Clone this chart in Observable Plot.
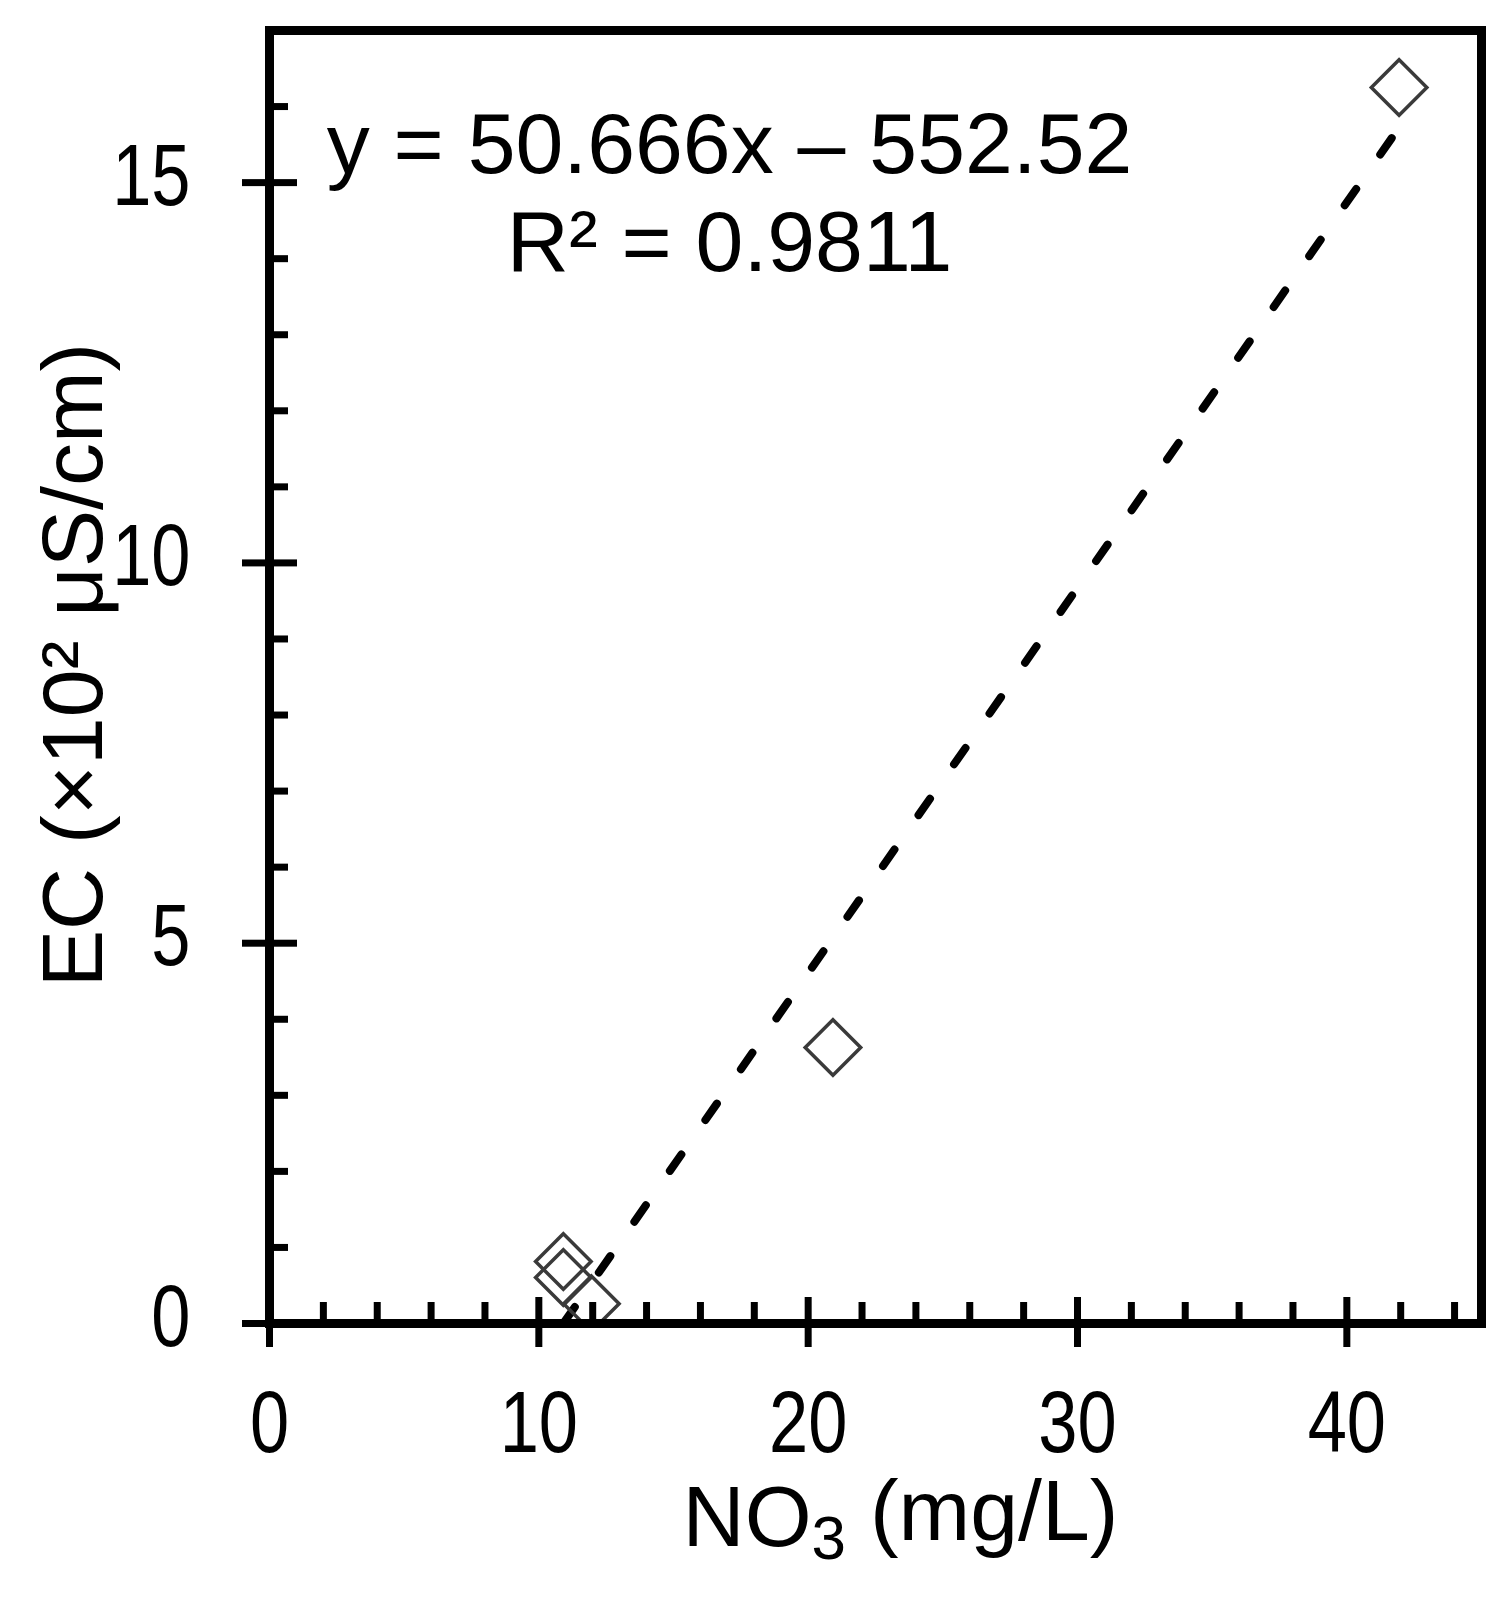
<!DOCTYPE html>
<html><head><meta charset="utf-8">
<script src="https://cdn.jsdelivr.net/npm/d3@7"></script>
<script src="https://cdn.jsdelivr.net/npm/@observablehq/plot@0.6"></script>
<style>body{margin:0;background:#fff}</style>
</head><body><div id="chart"></div>
<script>
// Data
const no3 = [10.91, 10.91, 11.95, 20.92, 41.94];      // NO3 (mg/L)
const ec  = [0.815, 0.605, 0.26, 3.63, 16.25];        // EC (x10^2 uS/cm)
const xTicks = [0, 10, 20, 30, 40];
const yTicks = [0, 5, 10, 15];
const xMinor = [2, 4, 6, 8, 12, 14, 16, 18, 22, 24, 26, 28, 32, 34, 36, 38, 42, 44];
const yMinor = [1, 2, 3, 4, 6, 7, 8, 9, 11, 12, 13, 14, 16];
const slope = 50.666, intercept = -552.52, ecUnit = 100;
const eqText = "y = 50.666x \u2013 552.52\nR\u00b2 = 0.9811";
const xLabel = "NO3 (mg/L)";
const yLabel = "EC (\u00d710\u00b2 \u03bcS/cm)";

const W = 1510, H = 1608, mL = 269, mR = 29, mT = 30, mB = 285;
const fw = W - mL - mR, fh = H - mT - mB;
const points = no3.map((x, i) => ({x, y: ec[i]}));
const fit = [d3.min(no3), d3.max(no3)].map(x => ({x, y: (slope * x + intercept) / ecUnit}));

const chart = Plot.plot({
  width: W, height: H,
  marginLeft: mL, marginRight: mR, marginTop: mT, marginBottom: mB,
  style: {fontFamily: "'Liberation Sans', Arial, sans-serif", fontSize: "86px", color: "black", background: "white"},
  x: {domain: [0, 45], ticks: xTicks, tickFormat: "d", label: null},
  y: {domain: [0, 17], ticks: yTicks, tickFormat: "d", label: null},
  marks: [
    Plot.line(fit, {x: "x", y: "y", stroke: "black", strokeWidth: 8, strokeDasharray: "20,42", strokeLinecap: "round"}),
    Plot.dot(points, {x: "x", y: "y", symbol: "diamond2", r: 25, stroke: "#3a3a3a", strokeWidth: 3.5, fill: "none", clip: true}),
    Plot.tickX(xTicks, {x: d => d, stroke: "black", strokeWidth: 7, insetTop: fh - 26}),
    Plot.tickX(xMinor, {x: d => d, stroke: "black", strokeWidth: 7, insetTop: fh - 21}),
    Plot.tickY(yTicks, {y: d => d, stroke: "black", strokeWidth: 7, insetRight: fw - 28}),
    Plot.tickY(yMinor, {y: d => d, stroke: "black", strokeWidth: 7, insetRight: fw - 19}),
    Plot.axisX(xTicks, {tickSize: 24, tickPadding: 42, strokeWidth: 7, tickFormat: "d", label: null, fontSize: 88}),
    Plot.axisY(yTicks, {tickSize: 27, tickPadding: 52, strokeWidth: 7, tickFormat: "d", label: null, fontSize: 88}),
    Plot.frame({stroke: "black", strokeWidth: 9}),
    Plot.text([eqText], {text: d => d, frameAnchor: "top", dx: -146, dy: 73, lineAnchor: "top", lineHeight: 1.14, textAnchor: "middle", fill: "black"}),
    Plot.text([xLabel], {text: d => d, frameAnchor: "bottom", dx: 25, dy: 222, textAnchor: "middle", fill: "black"}),
    Plot.text([yLabel], {text: d => d, frameAnchor: "left", dx: -195, dy: -12, rotate: -90, textAnchor: "middle", fill: "black"})
  ]
});
// subscript "3" in NO3
d3.select(chart).selectAll("text").filter(function () { return this.textContent === xLabel; }).each(function () {
  const t = d3.select(this);
  t.text(null);
  t.append("tspan").text("NO");
  t.append("tspan").attr("dy", "0.22em").attr("font-size", "0.72em").text("3");
  t.append("tspan").attr("dy", "-0.22em").text(" (mg/L)");
});
// tick labels in the reference use a narrow face, slightly raised on y
d3.select(chart).selectAll("[aria-label='y-axis tick label'] text").attr("transform", function () {
  return (this.getAttribute("transform") || "") + " translate(0,-6) scale(0.8,1)";
});
d3.select(chart).selectAll("[aria-label='x-axis tick label'] text").attr("transform", function () {
  return (this.getAttribute("transform") || "") + " scale(0.8,1)";
});
document.getElementById("chart").appendChild(chart);
</script>
</body></html>
